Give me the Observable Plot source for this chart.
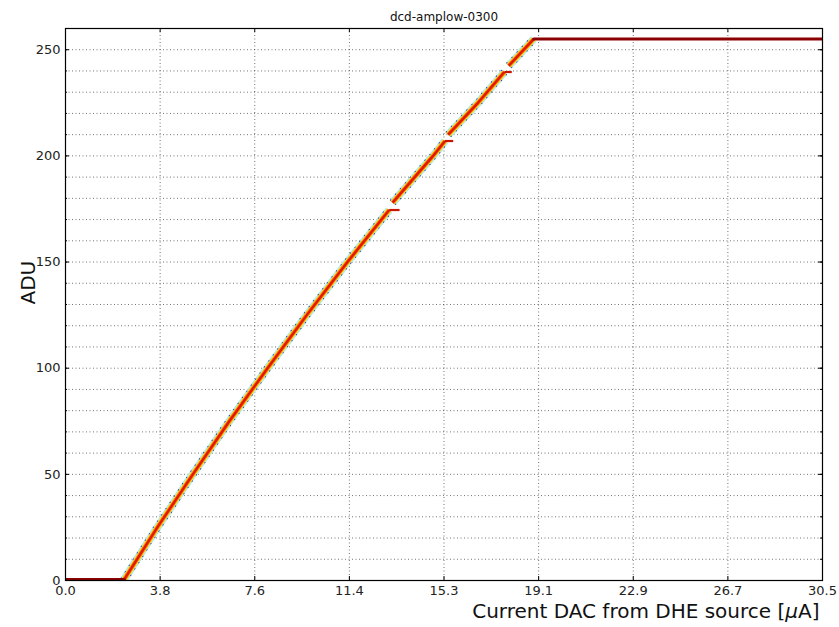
<!DOCTYPE html>
<html>
<head>
<meta charset="utf-8">
<script src="https://cdn.jsdelivr.net/npm/d3@7"></script>
<script src="https://cdn.jsdelivr.net/npm/@observablehq/plot@0.6"></script>
<style>
  body { margin: 0; background: #fff; }
  svg { display: block; }
</style>
</head>
<body>
<div id="chart"></div>
<script>
// Labels
const title = "dcd-amplow-0300";
const xLabel = "Current DAC from DHE source [μA]";
const yLabel = "ADU";

// Axis ticks
const xTicks = [0, 3.8125, 7.625, 11.4375, 15.25, 19.0625, 22.875, 26.6875, 30.5];
const xTickLabels = ["0.0", "3.8", "7.6", "11.4", "15.3", "19.1", "22.9", "26.7", "30.5"];
const yMajor = [0, 50, 100, 150, 200, 250];
const yMinor = [0, 10, 20, 30, 40, 50, 60, 70, 80, 90, 100, 110, 120, 130, 140, 150,
                160, 170, 180, 190, 200, 210, 220, 230, 240, 250, 260];

// Saturated regions: pedestal at 0 ADU and ceiling at 255 ADU
const floorX = [0, 2.34];
const floorADU = [0, 0];
const ceilX = [18.86, 30.5];
const ceilADU = [255, 255];

// Linear response, split where the ADC code jumps back
const rampSeg = ["a","a","a","a","a","a","a","a",
                 "b","b","b",
                 "c","c","c",
                 "d","d"];
const rampX = [2.34, 3.70, 5.13, 6.60, 8.14, 9.72, 11.36, 13.04,
               13.18, 14.81, 15.29,
               15.42, 16.62, 17.68,
               17.86, 18.86];
const rampADU = [0, 25, 50, 75, 100, 125, 150, 174.5,
                 178, 200, 207,
                 210, 225, 239.5,
                 242.5, 255];

// Short flat runs at the top of each lower piece
const tailStart = [13.04, 15.29, 17.68];
const tailEnd = [13.46, 15.62, 17.98];
const tailADU = [174.5, 207, 239.5];

const ramp = rampX.map((x, i) => ({x, y: rampADU[i], seg: rampSeg[i]}));
const tails = tailStart.map((x1, i) => ({x1, x2: tailEnd[i], y: tailADU[i]}));
const floorRows = floorX.map((x, i) => ({x, y: floorADU[i]}));
const ceilRows = ceilX.map((x, i) => ({x, y: ceilADU[i]}));

const W = 839, H = 627;
const mL = 65, mR = 17, mT = 28, mB = 47;
const innerW = W - mL - mR, innerH = H - mT - mB;

const dotted = {stroke: "#000", strokeOpacity: 0.55, strokeDasharray: "1,2.5", strokeWidth: 1};
const band = (stroke, strokeWidth, extra = {}) =>
  Plot.line(ramp, {x: "x", y: "y", z: "seg", stroke, strokeWidth, clip: true,
                   strokeLinecap: "butt", ...extra});

const chart = Plot.plot({
  width: W,
  height: H,
  marginLeft: mL,
  marginRight: mR,
  marginTop: mT,
  marginBottom: mB,
  style: {fontFamily: "DejaVu Sans", fontSize: "13px", color: "#222", background: "#fff"},
  x: {domain: [0, 30.5]},
  y: {domain: [0, 260]},
  marks: [
    // grid
    Plot.ruleX(xTicks.slice(1, -1), dotted),
    Plot.ruleY(yMinor.slice(1, -1), dotted),
    // histogram band around the response
    band("#aeeaf8", 8),
    band("#2236d8", 7.5, {strokeDasharray: "1.5,6"}),
    band("#f2e83a", 5.8),
    band("#ff8800", 4.2),
    band("#e01800", 2.4),
    Plot.link(tails, {x1: "x1", x2: "x2", y1: "y", y2: "y", stroke: "#c81400", strokeWidth: 2.2}),
    // saturation
    Plot.line(floorRows, {x: "x", y: "y", stroke: "#8b0000", strokeWidth: 5, clip: true}),
    Plot.line(ceilRows, {x: "x", y: "y", stroke: "#8b0000", strokeWidth: 3, clip: true}),
    // inward ticks on all four sides
    Plot.ruleX(xTicks, {insetTop: innerH - 4, stroke: "#000"}),
    Plot.ruleX(xTicks, {insetBottom: innerH - 4, stroke: "#000"}),
    Plot.ruleY(yMajor, {insetRight: innerW - 4, stroke: "#000"}),
    Plot.ruleY(yMajor, {insetLeft: innerW - 4, stroke: "#000"}),
    Plot.ruleY(yMinor, {insetRight: innerW - 2, stroke: "#000"}),
    Plot.ruleY(yMinor, {insetLeft: innerW - 2, stroke: "#000"}),
    Plot.frame({stroke: "#000", strokeWidth: 1.2}),
    // tick labels
    Plot.axisX({ticks: xTicks, tickSize: 0, tickPadding: 5, label: null,
                tickFormat: d => xTickLabels[xTicks.indexOf(d)]}),
    Plot.axisY({ticks: yMajor, tickSize: 0, tickPadding: 5, label: null}),
    // titles
    Plot.text([title], {frameAnchor: "top", dy: -8, lineAnchor: "bottom", fontSize: 12, fill: "#111"}),
    Plot.text([yLabel], {frameAnchor: "left", dx: -37, rotate: -90, fontSize: 20, fill: "#111"}),
    Plot.text([xLabel], {frameAnchor: "bottom-right", dx: -3, dy: 37, lineAnchor: "bottom",
                         textAnchor: "end", fontSize: 20, fill: "#111"})
  ]
});

// italic mu as in math text
chart.querySelectorAll("text").forEach(t => {
  if (t.textContent === xLabel) {
    const target = t.querySelector("tspan") || t;
    target.innerHTML = "Current DAC from DHE source [<tspan font-style=\"italic\">μ</tspan>A]";
  }
});

document.getElementById("chart").append(chart);
</script>
</body>
</html>
